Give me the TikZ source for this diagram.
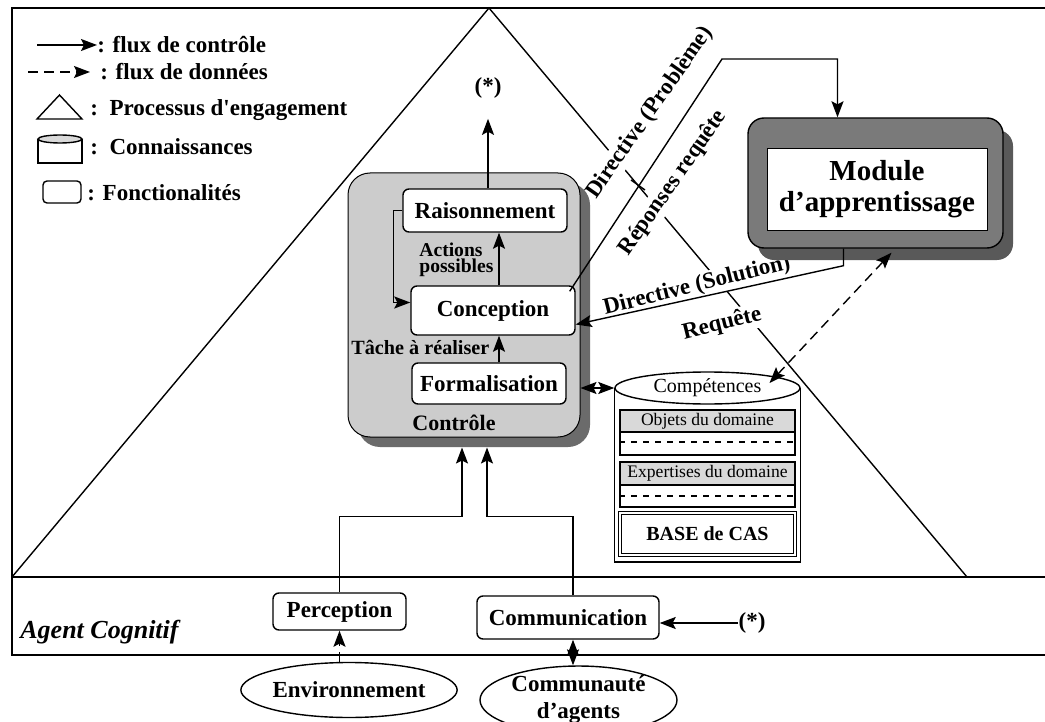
\documentclass[tikz,border=0pt]{standalone}
\usepackage{fontspec}
\setmainfont{Liberation Serif}
\usetikzlibrary{shapes.geometric, arrows.meta, positioning, shadows, calc}

\begin{document}
\begin{tikzpicture}[
        x=0.5pt, y=-0.5pt,
        font=\fontsize{11.5}{13}\selectfont\bfseries,
        >={Stealth[length=8pt, width=6pt, inset=1.5pt]},
        func/.style={rectangle, draw=black, line width=0.7pt, fill=white, rounded corners=3pt, inner sep=0pt},
        ctrl/.style={draw=black, line width=0.7pt, ->},
        data/.style={ctrl, dashed, dash pattern=on 5pt off 3pt},
        oval/.style={ellipse, draw=black, line width=0.7pt, fill=white, inner sep=0pt},
        lbl/.style={fill=white, inner sep=1pt},
        legend/.style={anchor=west, inner sep=0pt},
        section/.style={rectangle, draw=black, line width=0.6pt, minimum width=87.5pt, inner sep=0pt}
    ]
        \fill[white] (0,0) rectangle (1045,722);
        \useasboundingbox (0,0) rectangle (1045,722);

        % cadre de l'agent
        \draw[line width=1pt] (1045,8) -- (12,8) -- (12,655) -- (1045,655);
        \draw[line width=1pt] (12,577) -- (1045,577);
        \draw[line width=0.7pt] (12,577) -- (489,8) -- (967,577);

        % legende
        \coordinate (lgA) at (37,45);
        \node[legend] (lgctrl) at (97,45) {: flux de contrôle};
        \draw[ctrl] (lgA) -- (lgctrl.west);
        \coordinate (lgB) at (28,72);
        \node[legend] (lgdata) at (100,72) {: flux de données};
        \draw[data] (lgB) -- ([xshift=-5pt]lgdata.west);
        \draw[line width=0.7pt] (37,119) -- (59.5,95) -- (82,119) -- cycle;
        \node[legend] (lgtri) at (90,110) {:\ \ Processus d\textquotesingle engagement};
        \draw[line width=0.7pt] (38,139) -- (38,163) -- (82,163) -- (82,139);
        \draw[line width=0.7pt, fill=black!15] (60,139) ellipse [x radius=22, y radius=4];
        \node[legend] (lgcyl) at (90,147) {:\ \ Connaissances};
        \draw[line width=0.7pt, rounded corners=2pt] (43,181) rectangle (81,203);
        \node[legend] (lgfunc) at (87,193) {: Fonctionalités};

        % etiquettes des flux
        \node[lbl, rotate=55] (lbprob) at (650,113) {Directive (Problème)};
        \node[lbl, rotate=55] (lbrep) at (673,183) {Réponses requête};
        \node[lbl, rotate=14] (lbsol) at (697,286) {Directive (Solution)};
        \node[lbl, rotate=14] (lbreq) at (722,324) {Requête};

        % controle
        \node[rectangle, rounded corners=11pt, draw=black, line width=0.5pt, fill=black!20,
              minimum width=116pt, minimum height=132pt,
              drop shadow={shadow xshift=5pt, shadow yshift=-5pt, fill=black!58, opacity=1}] (controle) at (464,305) {};
        \node[func, minimum width=82pt, minimum height=21.5pt] (raison) at (485,210.5) {Raisonnement};
        \node[func, minimum width=82pt, minimum height=24.5pt] (concep) at (493,310.5) {Conception};
        \node[func, minimum width=77pt, minimum height=20.5pt] (formal) at (489,383.5) {Formalisation};
        \node[anchor=west, align=left, inner sep=0pt, font=\fontsize{9.8}{8}\selectfont\bfseries] (actions) at (419,260) {Actions\\possibles};
        \node[anchor=west, inner sep=0pt, font=\fontsize{10.1}{11}\selectfont\bfseries] (tache) at (351,347) {Tâche à réaliser};
        \node[inner sep=0pt, font=\fontsize{11}{12}\selectfont\bfseries] (ctrltxt) at (454,423) {Contrôle};
        \node[inner sep=0pt] (star1) at (488,88) {(*)};

        % module d'apprentissage
        \node[rectangle, rounded corners=8pt, draw=black, line width=0.7pt, fill=black!52,
              minimum width=127.5pt, minimum height=65pt,
              drop shadow={shadow xshift=5pt, shadow yshift=-6pt, fill=black!65, opacity=1}] (module) at (875.5,183) {};
        \node[rectangle, draw=black, line width=0.4pt, fill=white, minimum width=110pt, minimum height=41pt,
              align=center, font=\fontsize{14.5}{15.5}\selectfont\bfseries] (modtxt) at (877,189) {Module\\d’apprentissage};

        % connaissances
        \node[oval, minimum width=92.5pt, minimum height=16pt, font=\fontsize{10}{11}\selectfont] (compet) at (707.5,388) {Compétences};
        \draw[line width=0.7pt] (compet.west) -- ++(0,174) -| (compet.east);
        \node[section, minimum height=22.5pt] (objets) at (707.5,432.5) {};
        \node[section, anchor=north, fill=black!15, minimum height=11pt, font=\fontsize{8.8}{9}\selectfont] (objetsT) at (objets.north) {Objets du domaine};
        \draw[dashed, line width=0.7pt] (objets.west |- 0,442) -- (objets.east |- 0,442);
        \node[section, minimum height=22.5pt] (expert) at (707.5,484.5) {};
        \node[section, anchor=north, fill=black!15, minimum height=11.5pt, font=\fontsize{8.8}{9}\selectfont] (expertT) at (expert.north) {Expertises du domaine};
        \draw[dashed, line width=0.7pt] (expert.west |- 0,496) -- (expert.east |- 0,496);
        \node[section, minimum height=21pt, double, double distance=0.8pt, font=\fontsize{10}{11}\selectfont\bfseries] (cas) at (707.5,534) {BASE de CAS};

        % agent cognitif
        \node[anchor=west, inner sep=0pt, font=\fontsize{13}{14}\selectfont\bfseries\itshape] (agent) at (20,632) {Agent Cognitif};
        \node[func, minimum width=66.5pt, minimum height=18.5pt] (percep) at (339.5,611.5) {Perception};
        \node[func, minimum width=91pt, minimum height=21.5pt] (commun) at (568,617.5) {Communication};
        \node[inner sep=0pt] (star2) at (752,623) {(*)};
        \node[oval, minimum width=96pt, minimum height=27.5pt] (envir) at (349,690) {Environnement};
        \node[oval, minimum width=98.5pt, minimum height=33pt, align=center, font=\fontsize{11.5}{13.5}\selectfont\bfseries] (communaute) at (578.5,700) {Communauté\\d’agents};

        % flux
        \draw[ctrl] ([xshift=3pt]concep.north) -- ([xshift=3pt]concep.north |- raison.south);
        \draw[ctrl] ([xshift=5pt]formal.north) -- ([xshift=5pt]formal.north |- concep.south);
        \draw[ctrl] (raison.west) -- ++(-9,0) |- ([yshift=4pt]concep.west);
        \draw[ctrl] (raison.north -| star1) -- ([yshift=-10pt]star1.south);
        \coordinate (coude) at (722,59);
        \draw[ctrl] ([shift={(-3pt,-3pt)}]concep.north east) -- (coude) -| ([xshift=-19pt]module.north);
        \draw[line width=0.7pt] (631,180) -- (645,190);
        \draw[ctrl] ([xshift=-16pt]module.south) -- ++(0,17) -- ([yshift=-7pt]concep.east);
        \draw[data, <->] ([xshift=8pt, yshift=-2pt]module.south) -- ([shift={(31pt,2.5pt)}]compet.center);
        \draw[data, <->] (compet.west) -- (compet.west -| controle.east);
        \draw[ctrl] (percep.north) -- ++(0,-76) -| ([xshift=-1pt, yshift=-5pt]controle.south);
        \draw[ctrl] ([xshift=2.5pt]commun.north) -- ++(0,-79) -| ([xshift=11.5pt, yshift=-5pt]controle.south);
        \draw[ctrl] (star2.west) -- (star2.west -| commun.east);
        \draw[data] (percep.south |- envir.north) -- (percep.south);
        \draw[ctrl, <->] ([xshift=2.5pt]commun.south) -- ([xshift=2.5pt]commun.south |- communaute.north);
    \end{tikzpicture}
\end{document}
